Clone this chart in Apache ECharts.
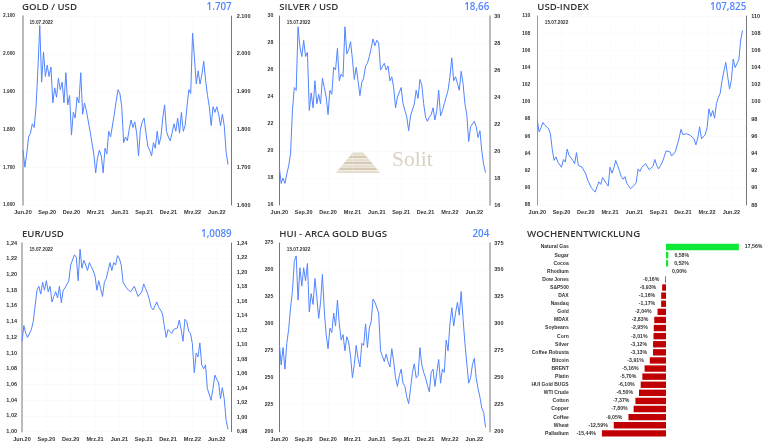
<!DOCTYPE html>
<html>
<head>
<meta charset="utf-8">
<style>
  html, body { margin: 0; padding: 0; background: #fff; }
  #main { width: 768px; height: 448px; }
</style>
<script src="https://cdn.jsdelivr.net/npm/echarts@6/dist/echarts.min.js"></script>
</head>
<body>
<div id="main"></div>
<script>
var quarter_labels = ['Jun.20', 'Sep.20', 'Dez.20', 'Mrz.21', 'Jun.21', 'Sep.21', 'Dez.21', 'Mrz.22', 'Jun.22'];

var gold_values = [
  1745, 1700, 1735, 1780, 1790, 1815, 1805, 1860, 1960, 2075, 1925, 2005, 1940,
  1970, 1940, 1965, 1870, 1910, 1885, 1935, 1905, 1925, 1870, 1950, 1865, 1890,
  1785, 1845, 1830, 1885, 1870, 1950, 1840, 1870, 1850, 1845, 1795, 1800, 1735,
  1685, 1725, 1745, 1730, 1685, 1750, 1735, 1795, 1780, 1785, 1840, 1875, 1905,
  1895, 1860, 1765, 1780, 1770, 1800, 1825, 1805, 1820, 1790, 1730, 1800, 1820,
  1830, 1790, 1755, 1745, 1730, 1765, 1750, 1795, 1760, 1780, 1830, 1865, 1795,
  1780, 1770, 1790, 1815, 1795, 1830, 1790, 1845, 1795, 1810, 1860, 1905, 1895,
  2055, 1990, 1920, 1955, 1920, 1945, 1980, 1930, 1890, 1860, 1810, 1860, 1845,
  1860, 1840, 1810, 1840, 1810, 1740, 1707
];
var silver_values = [
  18.8, 17.6, 18.0, 17.6, 18.3, 18.9, 19.8, 23.0, 24.7, 24.5, 29.2, 27.7, 27.0,
  28.2, 27.0, 27.3, 23.0, 24.3, 23.2, 25.2, 23.5, 24.2, 23.5, 25.4, 24.7, 24.0,
  22.7, 24.5, 24.2, 26.2, 26.0, 27.6, 25.2, 25.7, 25.5, 29.2, 27.2, 27.5, 28.1,
  26.8, 25.3, 26.2, 25.2, 24.1, 25.1, 25.4, 26.3, 26.5, 27.0, 27.6, 28.3, 27.8,
  28.2, 28.0, 26.0, 25.9, 26.5, 26.0, 26.3, 25.2, 25.5, 24.7, 23.2, 24.0, 24.0,
  24.7, 23.5, 23.0, 22.5, 21.5, 22.6, 22.6, 23.5, 24.5, 23.9, 25.3, 24.9, 23.5,
  22.5, 22.2, 22.5, 22.7, 23.2, 22.3, 23.0, 24.5, 22.6, 23.0, 23.5, 24.0, 24.5,
  25.5, 26.9, 25.2, 25.5, 25.0, 24.5, 25.9, 25.0, 23.5, 22.7, 20.7, 21.8, 22.0,
  22.2, 21.8, 21.0, 21.5, 20.0, 19.0, 18.4
];
var usd_values = [
  97.8, 96.5, 97.0, 97.6, 97.3, 97.4, 96.9, 96.3, 94.5, 93.2, 93.6, 93.0, 93.2,
  92.4, 93.3, 93.0, 94.5, 93.8, 93.5, 93.2, 92.8, 94.1, 92.6, 92.8, 92.4, 92.2,
  91.6, 90.9, 90.9, 90.0, 89.8, 89.5, 90.1, 90.7, 90.4, 91.2, 91.0, 90.5, 90.2,
  92.4, 91.7, 92.3, 93.2, 92.6, 92.0, 91.3, 91.0, 91.3, 90.5, 90.2, 89.9, 89.9,
  90.3, 90.6, 92.2, 91.9, 92.4, 92.4, 92.8, 92.9, 92.1, 92.3, 92.5, 93.3, 92.6,
  92.2, 92.6, 93.0, 93.6, 94.3, 94.1, 94.2, 93.7, 93.9, 94.2, 94.2, 95.8, 96.8,
  96.2, 96.3, 96.3, 96.5, 96.1, 96.2, 95.7, 95.0, 95.8, 97.1, 95.7, 95.6, 96.2,
  97.0, 99.2, 98.3, 99.0, 98.1, 99.8, 100.5, 101.0, 102.5, 103.6, 104.6, 103.0, 101.5,
  102.5, 105.0, 104.0, 103.8, 104.9, 107.2, 108.3
];
var eur_values = [
  1.115, 1.135, 1.125, 1.120, 1.122, 1.130, 1.140, 1.160, 1.180, 1.185, 1.175, 1.190, 1.180,
  1.192, 1.178, 1.185, 1.165, 1.172, 1.178, 1.170, 1.185, 1.164, 1.180, 1.183, 1.185, 1.192,
  1.212, 1.210, 1.225, 1.222, 1.192, 1.232, 1.208, 1.218, 1.212, 1.205, 1.215, 1.210, 1.205,
  1.198, 1.180, 1.192, 1.182, 1.172, 1.190, 1.195, 1.205, 1.215, 1.205, 1.215, 1.212, 1.224,
  1.220, 1.212, 1.190, 1.192, 1.182, 1.180, 1.178, 1.178, 1.185, 1.183, 1.172, 1.170, 1.178,
  1.188, 1.182, 1.176, 1.168, 1.158, 1.155, 1.160, 1.165, 1.158, 1.155, 1.150, 1.135, 1.120,
  1.130, 1.128, 1.125, 1.130, 1.128, 1.132, 1.142, 1.130, 1.115, 1.143, 1.140, 1.128, 1.125,
  1.112, 1.075, 1.100, 1.095, 1.113, 1.085, 1.080, 1.085, 1.055, 1.055, 1.040, 1.055, 1.072,
  1.072, 1.062, 1.042, 1.056, 1.042, 1.015, 1.003
];
var hui_values = [
  282, 262, 278, 258, 282, 295, 315, 330, 358, 363, 322, 352, 335,
  352, 340, 356, 311, 328, 318, 342, 325, 305, 320, 346, 312, 290,
  277, 296, 292, 310, 298, 322, 300, 285, 290, 275, 288, 283, 270,
  250, 262, 280, 268, 260, 282, 280, 300, 278, 296, 302, 323, 320,
  320, 310, 275, 270, 265, 272, 265, 260, 277, 265, 250, 242, 252,
  258, 245, 242, 232, 226, 240, 255, 263, 250, 252, 278, 262, 255,
  250, 243, 237, 255, 258, 242, 255, 267, 245, 258, 255, 285, 275,
  300, 315, 298, 310, 320, 308, 330, 305, 282, 282, 245, 250, 262,
  268, 250, 240, 232, 222, 218, 204
];

var week_names = ['Natural Gas', 'Sugar', 'Cocoa', 'Rhodium', 'Dow Jones', 'S&P500', 'DAX', 'Nasdaq', 'Gold', 'MDAX', 'Soybeans', 'Corn', 'Silver', 'Coffee Robusta', 'Bitcoin', 'BRENT', 'Platin', 'HUI Gold BUGS', 'WTI Crude', 'Cotton', 'Copper', 'Coffee', 'Wheat', 'Palladium'];
var week_values = [17.56, 0.58, 0.52, 0, -0.16, -0.93, -1.16, -1.17, -2.04, -2.83, -2.95, -3.01, -3.12, -3.13, -3.91, -5.16, -5.70, -6.10, -6.50, -7.37, -7.80, -9.05, -12.59, -15.44];

var date_text = '15.07.2022';
var line_color = '#5285ff';
var tick_font = 'Liberation Sans';
var title_font = 'Open Sans';

// 13 weeks per quarter, two spare slots after the last week
var categories = [];
for (var i = 0; i < 113; i++) {
  categories.push(i % 13 === 0 ? quarter_labels[i / 13] : '');
}

var panels = [
  { title: 'GOLD / USD', last: '1.707', values: gold_values, left: 22, right: 231.7, top: 16, bottom: 205, leftMargin: 8, leftFont: 4.8,
    min: 1600, max: 2100, step: 100, fmt: function (v) { return String(v).replace(/(\d)(\d{3})$/, '$1.$2'); }, leftAxis: '#aaaaaa', leftW: 1.6, rightAxis: '#555555', rightW: 0.8 },
  { title: 'SILVER / USD', last: '18,66', values: silver_values, left: 279.3, right: 489.3, top: 16, bottom: 205, leftMargin: 6, leftFont: 5.2,
    min: 16, max: 30, step: 2, fmt: function (v) { return String(v); }, leftAxis: '#555555', leftW: 0.8, rightAxis: '#aaaaaa', rightW: 1.6 },
  { title: 'USD-INDEX', last: '107,825', values: usd_values, left: 537.3, right: 746.3, top: 16, bottom: 205, leftMargin: 7, leftFont: 5,
    min: 88, max: 110, step: 2, fmt: function (v) { return String(v); }, leftAxis: '#999999', leftW: 1, rightAxis: '#777777', rightW: 1 },
  { title: 'EUR/USD', last: '1,0089', values: eur_values, left: 22, right: 231.7, top: 243, bottom: 431.7, leftMargin: 5, leftFont: 5.5,
    min: 1.00, max: 1.24, step: 0.02, rightMin: 0.98, fmt: function (v) { return v.toFixed(2).replace('.', ','); }, leftAxis: '#aaaaaa', leftW: 1.6, rightAxis: '#555555', rightW: 0.8 },
  { title: 'HUI - ARCA GOLD BUGS', last: '204', values: hui_values, left: 279.3, right: 489.3, top: 243, bottom: 431.7, leftMargin: 6, leftFont: 5.2,
    min: 200, max: 375, step: 25, fmt: function (v) { return String(v); }, leftAxis: '#555555', leftW: 0.8, rightAxis: '#aaaaaa', rightW: 1.6 }
];

var grids = [], xAxes = [], yAxes = [], series = [], titles = [];

panels.forEach(function (p, n) {
  grids.push({ left: p.left, top: p.top, width: p.right - p.left, height: p.bottom - p.top });
  xAxes.push({
    type: 'category', gridIndex: n, data: categories, boundaryGap: false,
    axisLine: { show: false }, axisTick: { show: false },
    axisLabel: { interval: 12, fontSize: 5.5, fontWeight: 'bold', color: '#333', fontFamily: tick_font, margin: 4.5, hideOverlap: false },
    splitLine: { show: true, interval: 12, lineStyle: { color: '#eeeeee', width: 0.5, type: 'dotted' } }
  });
  yAxes.push({
    type: 'value', gridIndex: n, position: 'left', min: p.min, max: p.max, interval: p.step,
    axisLine: { show: true, lineStyle: { color: p.leftAxis, width: p.leftW } }, axisTick: { show: false },
    axisLabel: { fontSize: p.leftFont, fontWeight: 'bold', color: '#333', fontFamily: tick_font, margin: p.leftMargin, formatter: p.fmt },
    splitLine: { show: true, lineStyle: { color: '#eeeeee', width: 0.5, type: 'dotted' } }
  });
  yAxes.push({
    type: 'value', gridIndex: n, position: 'right', min: p.rightMin || p.min, max: p.max, interval: p.step,
    axisLine: { show: true, lineStyle: { color: p.rightAxis, width: p.rightW } }, axisTick: { show: false },
    axisLabel: { fontSize: 5.5, fontWeight: 'bold', color: '#333', fontFamily: tick_font, margin: 5, formatter: p.fmt },
    splitLine: { show: false }
  });
  series.push({
    type: 'line', xAxisIndex: n, yAxisIndex: n * 2, data: p.values, showSymbol: false, silent: true,
    lineStyle: { color: line_color, width: 1 }
  });
  titles.push({ text: p.title, left: p.left, top: p.top - 13.5, padding: 0, textStyle: { fontFamily: title_font, fontSize: 9.6, fontWeight: 600, color: '#333' } });
  titles.push({ text: p.last, right: 768 - p.right, top: p.top - 14, padding: 0, textStyle: { fontFamily: title_font, fontSize: 9.8, fontWeight: 600, color: line_color } });
  titles.push({ text: date_text, left: p.left + 7.5, top: p.top + 4.5, padding: 0, textStyle: { fontFamily: tick_font, fontSize: 4.7, fontWeight: 'bold', color: '#333' } });
});

titles.push({ text: 'WOCHENENTWICKLUNG', left: 527, top: 229.5, padding: 0, textStyle: { fontFamily: title_font, fontSize: 9.7, fontWeight: 600, color: '#333' } });

// weekly change bars
var week_index = panels.length;
grids.push({ left: 574.7, top: 243, width: 174.3, height: 194.4 });
xAxes.push({ type: 'value', gridIndex: week_index, min: -22, max: 20, show: false, splitLine: { show: false } });
yAxes.push({
  type: 'category', gridIndex: week_index, data: week_names, inverse: true,
  axisLine: { show: false }, axisTick: { show: false },
  axisLabel: { interval: 0, fontSize: 5, fontWeight: 'bold', color: '#333', fontFamily: tick_font, margin: 6 }
});
series.push({
  type: 'bar', xAxisIndex: week_index, yAxisIndex: panels.length * 2, barWidth: 6.4, silent: true,
  data: week_values.map(function (v) {
    return {
      value: v,
      itemStyle: { color: v > 0 ? '#10e838' : '#c00000' },
      label: { position: v < 0 ? 'left' : 'right' }
    };
  }),
  label: {
    show: true, distance: 6, fontSize: 5.2, fontWeight: 'bold', color: '#333', fontFamily: tick_font,
    formatter: function (d) { return d.value.toFixed(2).replace('.', ',') + '%'; }
  }
});

// watermark in the silver panel
var logo = [];
for (var k = 0; k < 7; k++) {
  var half = 5 + k * 2.5;
  var y0 = 152.5 + k * 3;
  logo.push({
    type: 'polygon', silent: true, z: -1,
    shape: { points: [[358 - half, y0], [358 + half, y0], [358 + half + 2.5, y0 + 2.5], [358 - half - 2.5, y0 + 2.5]] },
    style: { fill: k % 2 ? '#d6cab4' : '#e6dece' }
  });
}
logo.push({
  type: 'text', silent: true, z: -1, left: 392, top: 149,
  style: { text: 'Solit', fontFamily: 'Liberation Serif', fontSize: 21.5, fill: '#dbd1bf' }
});

var chart_main = echarts.init(document.getElementById('main'), null, { renderer: 'canvas' });

chart_main.setOption({
  animation: false,
  backgroundColor: '#fff',
  title: titles,
  grid: grids,
  xAxis: xAxes,
  yAxis: yAxes,
  series: series,
  graphic: logo
});

window.addEventListener('resize', chart_main.resize);
</script>
</body>
</html>
